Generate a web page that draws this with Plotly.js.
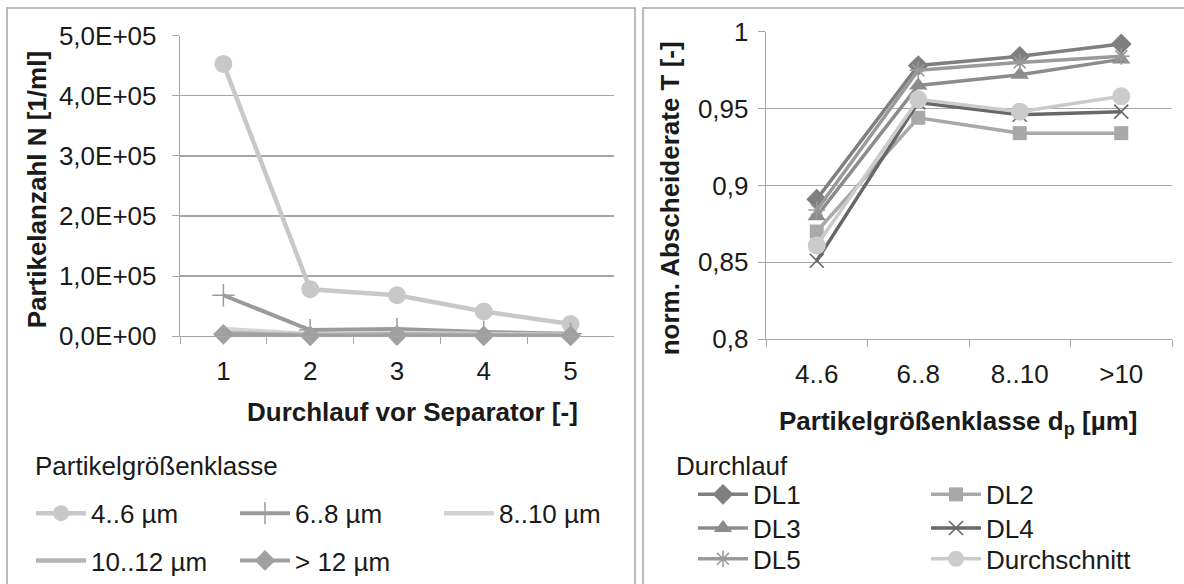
<!DOCTYPE html>
<html><head><meta charset="utf-8">
<script src="https://cdn.plot.ly/plotly-3.0.1.min.js"></script>
<style>html,body{margin:0;padding:0;background:#fff}#c{width:1184px;height:584px}</style>
</head><body><div id="c"></div>
<script>
// ---- data ----
var durchlauf = ['1', '2', '3', '4', '5'];
var n_4_6   = [453000, 78000, 68000, 41000, 20000];
var n_6_8   = [68000, 10000, 12000, 7000, 4000];
var n_8_10  = [12000, 3000, 5000, 3000, 2000];
var n_10_12 = [5000, 2000, 3000, 2000, 1000];
var n_gt12  = [3000, 500, 1000, 500, 300];
var leftTickVals = [0, 100000, 200000, 300000, 400000, 500000];
var leftTickText = ['0,0E+00', '1,0E+05', '2,0E+05', '3,0E+05', '4,0E+05', '5,0E+05'];

var klassen = ['4..6', '6..8', '8..10', '>10'];
var DL1 = [0.891, 0.978, 0.984, 0.992];
var DL2 = [0.870, 0.944, 0.934, 0.934];
var DL3 = [0.880, 0.965, 0.972, 0.982];
var DL4 = [0.851, 0.954, 0.946, 0.948];
var DL5 = [0.884, 0.975, 0.980, 0.984];
var Durchschnitt = [0.861, 0.956, 0.948, 0.958];
var rightTickVals = [0.8, 0.85, 0.9, 0.95, 1];
var rightTickText = ['0,8', '0,85', '0,9', '0,95', '1'];

// ---- layout helpers ----
var W = 1184, H = 584;
function px(x) { return x / W; }
function py(y) { return 1 - y / H; }
var FONT = 'Liberation Sans, Arial, sans-serif';
var GRID = '#a6a6a6';
var TXT = '#1a1a1a';
var FS = 26;
var FT = 26;

function tr(x, y, name, color, sym, msize, lw, xa, ya, leg, mline) {
  var t = {x: x, y: y, name: name, type: 'scatter', mode: sym ? 'lines+markers' : 'lines',
    line: {color: color, width: lw}, xaxis: xa, yaxis: ya, legend: leg, cliponaxis: false};
  if (sym) {
    t.marker = {symbol: sym, size: msize, color: color};
    if (mline) t.marker.line = {color: color, width: mline};
  }
  return t;
}

var data = [
  tr(durchlauf, n_4_6, '4..6 µm', '#c8c8c8', 'circle', 18, 4.5, 'x', 'y', 'legend'),
  tr(durchlauf, n_6_8, '6..8 µm', '#9b9b9b', 'cross-thin-open', 16, 4, 'x', 'y', 'legend', 1.5),
  tr(durchlauf, n_8_10, '8..10 µm', '#d3d3d3', null, 0, 4.5, 'x', 'y', 'legend'),
  tr(durchlauf, n_10_12, '10..12 µm', '#b5b5b5', null, 0, 4.5, 'x', 'y', 'legend2'),
  tr(durchlauf, n_gt12, '> 12 µm', '#a0a0a0', 'diamond', 16, 4, 'x', 'y', 'legend2'),

  tr(klassen, DL1, 'DL1', '#7f7f7f', 'diamond', 16, 3.5, 'x2', 'y2', 'legend3'),
  tr(klassen, DL2, 'DL2', '#a9a9a9', 'square', 14, 3.5, 'x2', 'y2', 'legend3'),
  tr(klassen, DL3, 'DL3', '#8c8c8c', 'triangle-up', 16, 3.5, 'x2', 'y2', 'legend4'),
  tr(klassen, DL4, 'DL4', '#686868', 'x-thin-open', 14, 3.5, 'x2', 'y2', 'legend4', 1.6),
  tr(klassen, DL5, 'DL5', '#9a9a9a', 'asterisk-open', 14, 3.5, 'x2', 'y2', 'legend5', 1.6),
  tr(klassen, Durchschnitt, 'Durchschnitt', '#cbcbcb', 'circle', 18, 3.5, 'x2', 'y2', 'legend5')
];

var axFont = {family: FONT, size: FS, color: TXT};
function legendCfg(x, y, ew) {
  return {x: px(x), y: py(y), xanchor: 'left', yanchor: 'top', orientation: 'h',
    bgcolor: 'rgba(0,0,0,0)', borderwidth: 0, font: {family: FONT, size: FS, color: TXT},
    itemwidth: 50, entrywidth: ew, entrywidthmode: 'pixels', itemclick: false, tracegroupgap: 0};
}
function ann(text, x, y, opts) {
  var a = {text: text, xref: 'paper', yref: 'paper', x: px(x), y: py(y), showarrow: false,
    xanchor: 'center', yanchor: 'middle', font: {family: FONT, size: FS, color: TXT}};
  for (var k in opts) a[k] = opts[k];
  return a;
}
function xAx(x0, x1, n, ya) {
  return {domain: [px(x0), px(x1)], anchor: ya, type: 'category', range: [-0.5, n - 0.5],
    showgrid: false, showline: true, linecolor: GRID, linewidth: 1.3, ticks: 'outside', ticklen: 7,
    tickcolor: GRID, tickson: 'boundaries', tickfont: axFont, ticklabelstandoff: 11,
    zeroline: false, fixedrange: true};
}
function yAx(y0, y1, rng, tv, tt, xa, standoff) {
  return {domain: [py(y1), py(y0)], anchor: xa, range: rng, tickvals: tv, ticktext: tt,
    showgrid: true, gridcolor: GRID, gridwidth: 1.3, showline: true, linecolor: GRID, linewidth: 1.3,
    ticks: 'outside', ticklen: 7, tickcolor: GRID, tickfont: axFont, ticklabelstandoff: standoff,
    zeroline: false, fixedrange: true};
}

var bold = {family: FONT, size: FT, color: TXT};
var layout = {
  width: W, height: H, margin: {l: 0, r: 0, t: 0, b: 0},
  paper_bgcolor: '#fff', plot_bgcolor: 'rgba(0,0,0,0)',
  font: {family: FONT, size: FS, color: TXT},
  showlegend: true,
  xaxis: xAx(180, 614, durchlauf.length, 'y'),
  yaxis: yAx(36, 339, [0, 500000], leftTickVals, leftTickText, 'x', 10),
  xaxis2: xAx(766, 1172, klassen.length, 'y2'),
  yaxis2: yAx(32, 342, [0.8, 1], rightTickVals, rightTickText, 'x2', 4),
  legend: legendCfg(31, 494, 139),
  legend2: legendCfg(31, 542, 139),
  legend3: legendCfg(693, 475, 168),
  legend4: legendCfg(693, 509, 168),
  legend5: legendCfg(693, 540, 168),
  shapes: [
    {type: 'rect', xref: 'paper', yref: 'paper', x0: px(7), x1: px(635), y0: py(600), y1: py(8),
      line: {color: '#a6a6a6', width: 1.5}},
    {type: 'rect', xref: 'paper', yref: 'paper', x0: px(643), x1: px(1200), y0: py(600), y1: py(8),
      line: {color: '#a6a6a6', width: 1.5}}
  ],
  annotations: [
    ann('<b>Partikelanzahl N [1/ml]</b>', 37, 192, {textangle: -90, font: bold}),
    ann('<b>Durchlauf vor Separator [-]</b>', 412, 416, {font: bold}),
    ann('<b>norm. Abscheiderate T [-]</b>', 670, 200, {textangle: -90, font: bold}),
    ann('<b>Partikelgrößenklasse d<sub>p</sub> [µm]</b>', 958, 426, {font: bold}),
    ann('Partikelgrößenklasse', 33, 470, {xanchor: 'left'}),
    ann('Durchlauf', 674, 470, {xanchor: 'left'})
  ]
};

Plotly.newPlot('c', data, layout, {displayModeBar: false, staticPlot: true});
</script></body></html>
